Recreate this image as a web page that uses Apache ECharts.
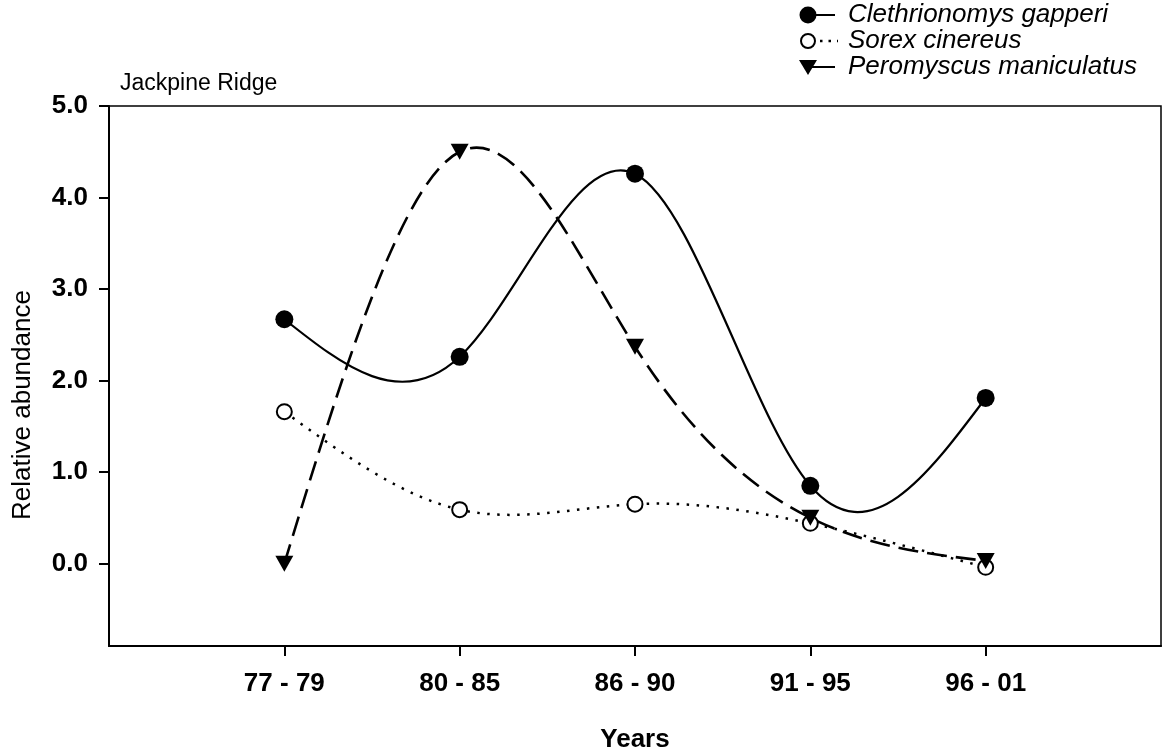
<!DOCTYPE html>
<html>
<head>
<meta charset="utf-8">
<script src="https://cdn.jsdelivr.net/npm/echarts@6/dist/echarts.min.js"></script>
<style>
  html, body { margin: 0; padding: 0; background: #fff; }
  #chart { width: 1163px; height: 754px; }
</style>
</head>
<body>
<div id="chart"></div>
<script>
// Sampling periods (x axis categories)
const periods = ['77 - 79', '80 - 85', '86 - 90', '91 - 95', '96 - 01'];

// Relative abundance per period
const clethrionomys = [2.67, 2.26, 4.26, 0.85, 1.81];
const sorex = [1.66, 0.59, 0.65, 0.44, -0.04];
const peromyscus = [0.0, 4.50, 2.37, 0.50, 0.03];

// Y axis tick values and labels
const yTicks = [0, 1, 2, 3, 4, 5];
const yTickLabels = ['0.0', '1.0', '2.0', '3.0', '4.0', '5.0'];

const speciesNames = ['Clethrionomys gapperi', 'Sorex cinereus', 'Peromyscus maniculatus'];

const toPoints = vals => vals.map((v, i) => [i, v]);
const xIdx = periods.map((_, i) => i);

// Natural cubic spline on unit-spaced x: returns the slope at every knot
function splineSlopes(ys) {
  const n = ys.length;
  const M = new Array(n).fill(0);
  if (n > 2) {
    const m = n - 2;
    const a = [], b = [], c = [], d = [];
    for (let i = 1; i <= m; i++) {
      a.push(1); b.push(4); c.push(1);
      d.push(6 * (ys[i + 1] - 2 * ys[i] + ys[i - 1]));
    }
    // Thomas algorithm
    for (let i = 1; i < m; i++) {
      const w = a[i] / b[i - 1];
      b[i] -= w * c[i - 1];
      d[i] -= w * d[i - 1];
    }
    const sol = new Array(m);
    sol[m - 1] = d[m - 1] / b[m - 1];
    for (let i = m - 2; i >= 0; i--) sol[i] = (d[i] - c[i] * sol[i + 1]) / b[i];
    for (let i = 1; i <= m; i++) M[i] = sol[i - 1];
  }
  const s = [];
  for (let i = 0; i < n; i++) {
    if (i < n - 1) s.push((ys[i + 1] - ys[i]) - (2 * M[i] + M[i + 1]) / 6);
    else s.push((ys[i] - ys[i - 1]) + (M[i - 1] + 2 * M[i]) / 6);
  }
  return s;
}

// Custom series that draws the spline through one species' values as Bezier segments
function curveSeries(vals, style, z) {
  const slopes = splineSlopes(vals);
  return {
    type: 'custom',
    data: toPoints(vals),
    z: z,
    silent: true,
    renderItem: function (params, api) {
      if (params.dataIndex !== 0) return null;
      const p0 = api.coord([0, vals[0]]);
      let path = 'M' + p0[0] + ' ' + p0[1];
      for (let i = 0; i < vals.length - 1; i++) {
        const c1 = api.coord([i + 1 / 3, vals[i] + slopes[i] / 3]);
        const c2 = api.coord([i + 2 / 3, vals[i + 1] - slopes[i + 1] / 3]);
        const p1 = api.coord([i + 1, vals[i + 1]]);
        path += ' C' + c1[0] + ' ' + c1[1] + ' ' + c2[0] + ' ' + c2[1] + ' ' + p1[0] + ' ' + p1[1];
      }
      return {
        type: 'path',
        shape: { pathData: path },
        style: Object.assign({ fill: 'none', stroke: '#000' }, style)
      };
    }
  };
}

const chart = echarts.init(document.getElementById('chart'), null, { renderer: 'canvas' });

const font = 'Arial, "Liberation Sans", Helvetica, sans-serif';

// Legend rows: symbol, short line, italic species name
function legendRow(y, kind, label) {
  const children = [];
  if (kind === 'cleth') {
    children.push({ type: 'line', shape: { x1: 0, y1: 0, x2: 27, y2: 0 }, style: { stroke: '#000', lineWidth: 2 } });
    children.push({ type: 'circle', shape: { cx: 0, cy: 0, r: 8.5 }, style: { fill: '#000' } });
  } else if (kind === 'sorex') {
    children.push({ type: 'line', shape: { x1: 12, y1: 0, x2: 30, y2: 0 }, style: { stroke: '#000', lineWidth: 2.5, lineDash: [2.5, 6] } });
    children.push({ type: 'circle', shape: { cx: 0, cy: 0, r: 7 }, style: { fill: '#fff', stroke: '#000', lineWidth: 2 } });
  } else {
    children.push({ type: 'line', shape: { x1: 0, y1: 0, x2: 27, y2: 0 }, style: { stroke: '#000', lineWidth: 2 } });
    children.push({ type: 'polygon', shape: { points: [[-9, -7], [9, -7], [0, 8]] }, style: { fill: '#000' } });
  }
  children.push({
    type: 'text', x: 40, y: 0,
    style: { text: label, font: 'italic 26px ' + font, fill: '#000', verticalAlign: 'middle', align: 'left' }
  });
  return { type: 'group', x: 808, y: y, children: children };
}

const option = {
  backgroundColor: '#fff',
  animation: false,
  grid: { left: 109, right: 2, top: 106, bottom: 108, show: true, borderColor: '#000', borderWidth: 1.5 },
  xAxis: {
    type: 'value',
    min: -1,
    max: 5,
    axisLine: { show: true, onZero: false, lineStyle: { color: '#000', width: 2 } },
    axisTick: { show: true, length: 10, customValues: xIdx, lineStyle: { color: '#000', width: 2 } },
    axisLabel: {
      customValues: xIdx,
      formatter: v => periods[v],
      margin: 25,
      color: '#000',
      fontFamily: font,
      fontWeight: 'bold',
      fontSize: 26
    },
    splitLine: { show: false }
  },
  yAxis: {
    type: 'value',
    min: -0.9,
    max: 5,
    axisLine: { show: true, onZero: false, lineStyle: { color: '#000', width: 2 } },
    axisTick: { show: true, length: 10, customValues: yTicks, lineStyle: { color: '#000', width: 2 } },
    axisLabel: {
      customValues: yTicks,
      formatter: v => yTickLabels[yTicks.indexOf(v)],
      margin: 21,
      color: '#000',
      fontFamily: font,
      fontWeight: 'bold',
      fontSize: 26
    },
    splitLine: { show: false }
  },
  graphic: [
    {
      type: 'text', left: 120, top: 72,
      style: { text: 'Jackpine Ridge', font: '23px ' + font, fill: '#000' }
    },
    {
      type: 'text', x: 23, y: 405, rotation: Math.PI / 2,
      style: { text: 'Relative abundance', font: '26px ' + font, fill: '#000', align: 'center', verticalAlign: 'middle' }
    },
    {
      type: 'text', x: 635, y: 740,
      style: { text: 'Years', font: 'bold 26px ' + font, fill: '#000', align: 'center', verticalAlign: 'middle' }
    },
    legendRow(15, 'cleth', speciesNames[0]),
    legendRow(41, 'sorex', speciesNames[1]),
    legendRow(67, 'pero', speciesNames[2])
  ],
  series: [
    curveSeries(clethrionomys, { lineWidth: 2.2 }, 2),
    curveSeries(sorex, { lineWidth: 2.5, lineDash: [2.5, 7.5] }, 2),
    curveSeries(peromyscus, { lineWidth: 2.6, lineDash: [20, 9] }, 2),
    {
      name: speciesNames[0],
      type: 'scatter',
      data: toPoints(clethrionomys),
      symbol: 'circle',
      symbolSize: 18,
      itemStyle: { color: '#000', opacity: 1 },
      emphasis: { disabled: true },
      z: 3
    },
    {
      name: speciesNames[1],
      type: 'scatter',
      data: toPoints(sorex),
      symbol: 'circle',
      symbolSize: 15,
      itemStyle: { color: '#fff', borderColor: '#000', borderWidth: 2, opacity: 1 },
      emphasis: { disabled: true },
      z: 4
    },
    {
      name: speciesNames[2],
      type: 'scatter',
      data: toPoints(peromyscus),
      symbol: 'triangle',
      symbolRotate: 180,
      symbolSize: [18, 16],
      itemStyle: { color: '#000', opacity: 1 },
      emphasis: { disabled: true },
      z: 5
    }
  ]
};

chart.setOption(option);
</script>
</body>
</html>
